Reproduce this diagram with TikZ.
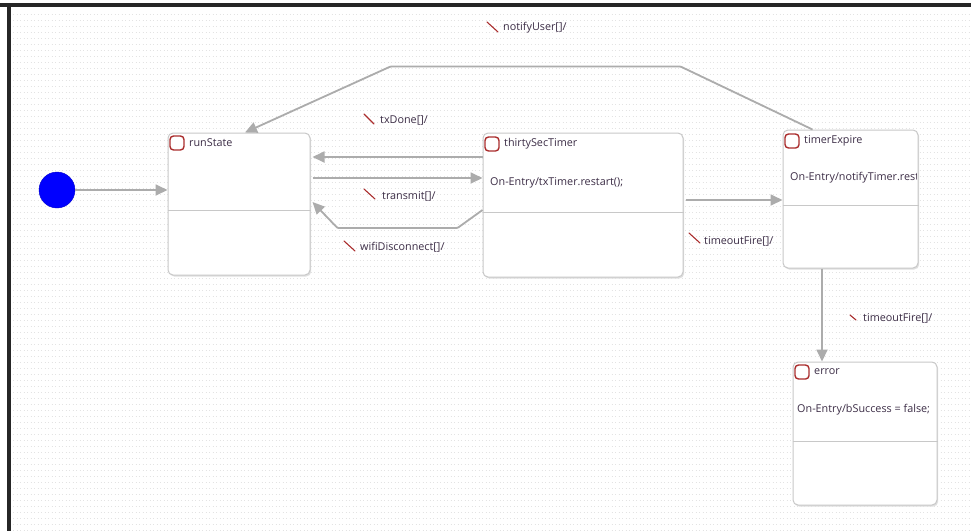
\documentclass[tikz,border=0pt]{standalone}
\usepackage{fontspec}
\setmainfont{Open Sans}
\usetikzlibrary{arrows.meta}
\definecolor{tgray}{RGB}{172,172,172}
\definecolor{bgray}{RGB}{200,200,200}
\definecolor{icred}{RGB}{170,45,45}
\definecolor{txt}{RGB}{60,45,70}
\tikzset{
  statebox/.style={draw=bgray, line width=1pt, rounded corners=5pt, fill=white,
    inner sep=0pt, preaction={fill=black!12, transform canvas={xshift=1.2pt,yshift=-1.5pt}}},
  divline/.style={draw=bgray, line width=1pt},
  sicon/.style={draw=icred, line width=1.4pt, rounded corners=3.5pt, minimum size=14pt, inner sep=0pt, fill=white},
  stitle/.style={anchor=west, inner sep=0pt, font=\fontsize{10.8}{13}\selectfont, text=txt},
  sentry/.style={anchor=west, inner sep=0pt, font=\fontsize{10.8}{13}\selectfont, text=txt},
  tr/.style={draw=tgray, line width=1.8pt, -{Triangle[length=12pt,width=11pt]}},
  tlabel/.style={anchor=west, inner sep=0pt, font=\fontsize{10.8}{13}\selectfont, text=txt},
  ticon/.style={draw=icred, line width=1.1pt, line cap=round},
  initst/.style={circle, fill=blue, draw=blue!80!black, line width=0.4pt, minimum size=36pt, inner sep=0pt}
}
\begin{document}
\begin{tikzpicture}[x=1pt,y=-1pt]
\useasboundingbox (0,0) rectangle (971,531);
\fill[white] (0,0) rectangle (971,531);
% dotted grid background
\foreach \yy in {14,20,...,530} {
  \draw[black!11, line width=0.7pt, dash pattern=on 1pt off 2.5pt] (13,\yy) -- (971,\yy);
}
% frame
\fill[black!85] (0,3) rectangle (971,7);
\fill[black!85] (7,3) rectangle (11,531);

% states
\node[statebox, minimum width=142pt, minimum height=142pt] (run) at (239,204) {};
\node[statebox, minimum width=200pt, minimum height=144pt] (thirty) at (583,205) {};
\node[statebox, minimum width=135pt, minimum height=138pt] (timer) at (850.5,199) {};
\node[statebox, minimum width=144pt, minimum height=143pt] (err) at (865,433.5) {};

\draw[divline] ([yshift=-6pt]run.west) -- ([yshift=-6pt]run.east);
\draw[divline] ([yshift=-7pt]thirty.west) -- ([yshift=-7pt]thirty.east);
\draw[divline] ([yshift=-6pt]timer.west) -- ([yshift=-6pt]timer.east);
\draw[divline] ([yshift=-7.5pt]err.west) -- ([yshift=-7.5pt]err.east);

% icons and titles
\node[sicon] (runic) at (177,143) {};
\node[stitle] (runt) at (189,143) {runState};
\node[sicon] (thic) at (492,144) {};
\node[stitle] (thit) at (504,144) {thirtySecTimer};
\node[sentry] (thie) at (490,183) {On-Entry/txTimer.restart();};
\node[sicon] (tiic) at (792,141) {};
\node[stitle] (tit) at (804,141) {timerExpire};
\begin{scope}
\clip (783,160) rectangle (916,195);
\node[sentry] (tie) at (790,178) {On-Entry/notifyTimer.restart();};
\end{scope}
\node[sicon] (eric) at (802,372) {};
\node[stitle] (ert) at (814,372) {error};
\begin{scope}
\clip (793,395) rectangle (935,425);
\node[sentry] (ere) at (797,410) {On-Entry/bSuccess = false;};
\end{scope}

% initial state
\node[initst] (init) at (57,190) {};

% transitions
\draw[tr] (init) -- (run.west |- init);
\draw[tr] ([yshift=48pt]thirty.west) -- ([yshift=47pt,xshift=2pt]run.east);
\draw[tr] ([yshift=26pt,xshift=2pt]run.east) -- ([yshift=27pt]thirty.west);
\draw[tr, rounded corners=1pt] ([yshift=-5pt]thirty.west) -- ++(-25,18) -- ++(-120,0) -- ([yshift=2pt,xshift=2pt]run.east);
\draw[tr] ([yshift=5pt,xshift=2pt]thirty.east) -- ([yshift=-1pt]timer.west);
\draw[tr, rounded corners=1pt] ([xshift=-38pt]timer.north) -- ++(-132,-63) -- ++(-290,0) -- ([xshift=6pt]run.north);
\draw[tr] ([xshift=-28.5pt]timer.south) -- ([xshift=-43pt]err.north);

% transition labels
\node[tlabel] (l1) at (503,28) {notifyUser[]/};
\draw[ticon] ([xshift=-16pt,yshift=6pt]l1.west) -- ++(11,10);
\node[tlabel] (l2) at (380,120) {txDone[]/};
\draw[ticon] ([xshift=-16pt,yshift=6pt]l2.west) -- ++(10,10);
\node[tlabel] (l3) at (382,196) {transmit[]/};
\draw[ticon] ([xshift=-18pt,yshift=7pt]l3.west) -- ++(11,10);
\node[tlabel] (l4) at (360,247) {wifiDisconnect[]/};
\draw[ticon] ([xshift=-16pt,yshift=6pt]l4.west) -- ++(11,10);
\node[tlabel] (l5) at (704,241) {timeoutFire[]/};
\draw[ticon] ([xshift=-15pt,yshift=8pt]l5.west) -- ++(11,10);
\node[tlabel] (l6) at (863,318) {timeoutFire[]/};
\draw[ticon] ([xshift=-13pt,yshift=3pt]l6.west) -- ++(6,5);
\end{tikzpicture}
\end{document}
